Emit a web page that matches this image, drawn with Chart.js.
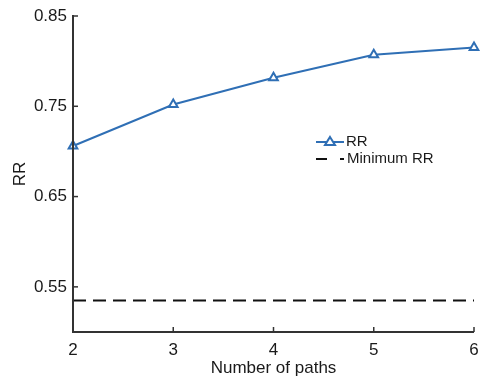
<!DOCTYPE html>
<html><head><meta charset="utf-8">
<script src="https://cdn.jsdelivr.net/npm/chart.js@4"></script>
<style>html,body{margin:0;padding:0;background:#fff}#w{width:481px;height:379px;position:relative}</style>
</head><body><div id="w"><canvas id="c" width="481" height="379"></canvas></div>
<script>
const paths = [2, 3, 4, 5, 6];
const rrValues = [0.706, 0.752, 0.7815, 0.807, 0.815];
const minimumRR = 0.535;
const yTicks = [0.55, 0.65, 0.75, 0.85];
const xTicks = [2, 3, 4, 5, 6];
const seriesNames = ['RR', 'Minimum RR'];

const BLUE = '#2f6fb5';
const TXT = '#1a1a1a';
const FONT = 'Liberation Sans, Arial, sans-serif';

const axisPlugin = {
  id: 'axisPlugin',
  afterDatasetsDraw(chart) {
    const ctx = chart.ctx, x = chart.scales.x, y = chart.scales.y;
    const a = chart.chartArea;
    ctx.save();
    ctx.strokeStyle = '#333';
    ctx.lineWidth = 2;
    ctx.beginPath();
    ctx.moveTo(a.left, a.top - 1); ctx.lineTo(a.left, a.bottom); ctx.lineTo(a.right, a.bottom);
    ctx.stroke();
    ctx.lineWidth = 1.5;
    yTicks.forEach(v => { const p = y.getPixelForValue(v); ctx.beginPath(); ctx.moveTo(a.left, p); ctx.lineTo(a.left + 5, p); ctx.stroke(); });
    xTicks.forEach(v => { const p = x.getPixelForValue(v); ctx.beginPath(); ctx.moveTo(p, a.bottom); ctx.lineTo(p, a.bottom - 5); ctx.stroke(); });
    // legend
    const lx = 316, ly1 = 142, ly2 = 159;
    ctx.strokeStyle = BLUE; ctx.lineWidth = 2;
    ctx.beginPath(); ctx.moveTo(lx, ly1); ctx.lineTo(lx + 28, ly1); ctx.stroke();
    ctx.beginPath(); ctx.moveTo(lx + 14, ly1 - 5); ctx.lineTo(lx + 19, ly1 + 3); ctx.lineTo(lx + 9, ly1 + 3); ctx.closePath();
    ctx.fillStyle = '#fff'; ctx.fill(); ctx.stroke();
    ctx.strokeStyle = '#111';
    ctx.beginPath(); ctx.moveTo(lx, ly2); ctx.lineTo(lx + 11, ly2); ctx.moveTo(lx + 24, ly2); ctx.lineTo(lx + 28, ly2); ctx.stroke();
    ctx.fillStyle = TXT; ctx.font = '15px ' + FONT; ctx.textBaseline = 'middle'; ctx.textAlign = 'left';
    ctx.fillText(seriesNames[0], lx + 30, ly1);
    ctx.fillText(seriesNames[1], lx + 31, ly2);
    ctx.restore();
  }
};

new Chart(document.getElementById('c'), {
  type: 'line',
  data: {
    datasets: [
      { label: seriesNames[0], data: paths.map((p, i) => ({ x: p, y: rrValues[i] })),
        borderColor: BLUE, backgroundColor: '#fff', borderWidth: 2, pointStyle: 'triangle',
        pointRadius: 5, pointBorderWidth: 2, pointBorderColor: BLUE, pointBackgroundColor: 'rgba(255,255,255,1)', tension: 0, clip: false },
      { label: seriesNames[1], data: [{ x: paths[0], y: minimumRR }, { x: paths[paths.length - 1], y: minimumRR }],
        borderColor: '#111', borderWidth: 2, borderDash: [13, 7], pointRadius: 0, tension: 0 }
    ]
  },
  options: {
    responsive: false, animation: false, devicePixelRatio: 1,
    layout: { padding: { top: 16, right: 6, left: 0, bottom: 0 } },
    plugins: { legend: { display: false }, tooltip: { enabled: false } },
    scales: {
      x: { type: 'linear', min: 2, max: 6,
        afterBuildTicks(s) { s.ticks = xTicks.map(v => ({ value: v })); },
        afterFit(s) { s.height = 47; s.paddingRight = 0; s.paddingLeft = 0; },
        grid: { display: false, drawTicks: false }, border: { display: false },
        ticks: { color: TXT, font: { family: FONT, size: 17 }, padding: 8, maxRotation: 0, callback: v => String(v) },
        title: { display: true, text: 'Number of paths', color: TXT, font: { family: FONT, size: 17 }, padding: { top: 2, bottom: 0 } } },
      y: { type: 'linear', min: 0.5, max: 0.85,
        afterBuildTicks(s) { s.ticks = yTicks.map(v => ({ value: v })); },
        afterFit(s) { s.width = 73; s.paddingTop = 0; s.paddingBottom = 0; },
        grid: { display: false, drawTicks: false }, border: { display: false },
        ticks: { color: TXT, font: { family: FONT, size: 17 }, padding: 6, callback: v => v.toFixed(2) },
        title: { display: true, text: 'RR', color: TXT, font: { family: FONT, size: 17 }, padding: { top: 10, bottom: 2 } } }
    }
  },
  plugins: [axisPlugin]
});
</script></body></html>
